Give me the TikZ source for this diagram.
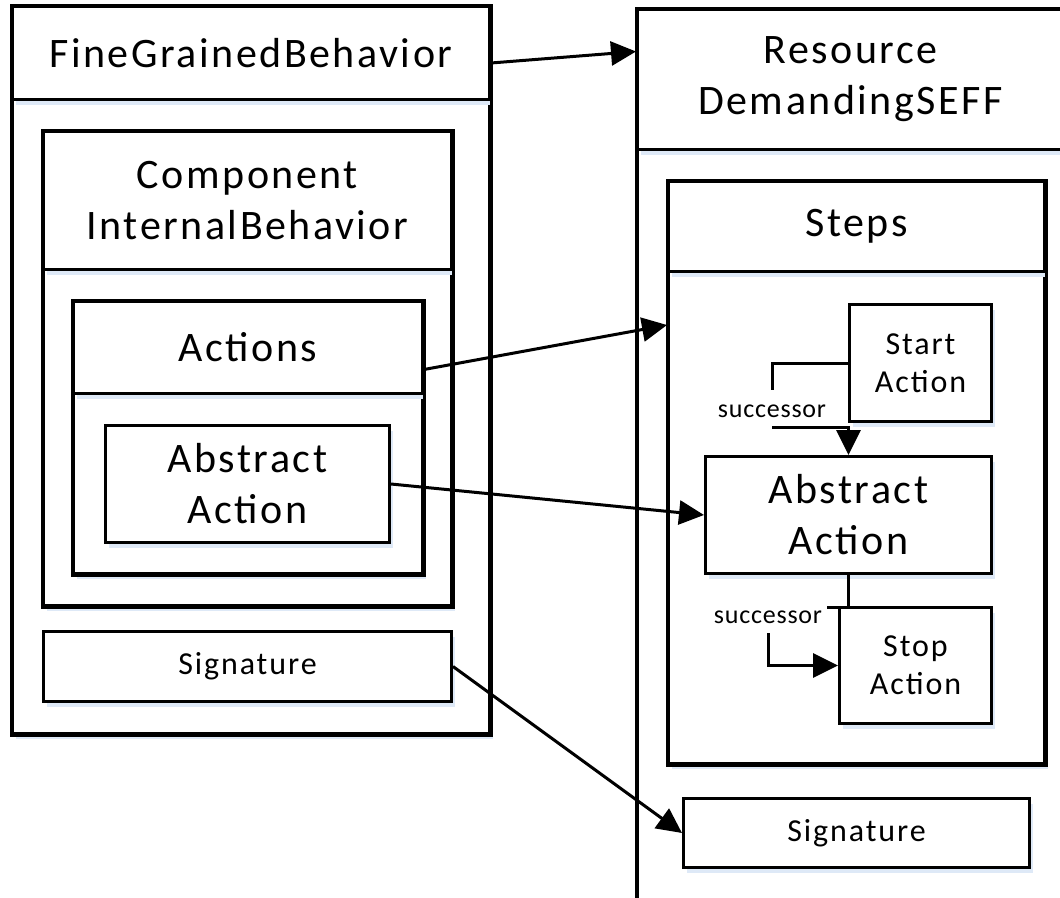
\documentclass[tikz,border=0pt]{standalone}
\usepackage{fontspec}
\setmainfont{Carlito}[LetterSpace=6]
\newfontfamily\labelfont{Carlito}[LetterSpace=3]
\usetikzlibrary{arrows.meta,shadows}
\definecolor{glow}{RGB}{222,233,247}
\begin{document}
\begin{tikzpicture}[x=1pt,y=-1pt,
  box/.style={draw=black, line width=3pt, fill=white, rectangle,
    anchor=north west, inner sep=0pt, align=center,
    drop shadow={shadow xshift=3pt, shadow yshift=-5pt, fill=glow, opacity=1}},
  big/.style={font=\fontsize{42}{51}\selectfont},
  mid/.style={font=\fontsize{32}{38}\selectfont},
  small/.style={font=\labelfont\fontsize{26}{30}\selectfont, inner sep=0pt},
  link/.style={draw=black, line width=3pt, -{Triangle[length=25pt,width=24pt]}},
  conn/.style={draw=black, line width=3pt},
  rim/.style={draw=black, line width=3pt}]
\useasboundingbox (0,0) rectangle (1060,897);
\clip (0,0) rectangle (1060,897);

% left side: FineGrainedBehavior and its contents
\node[box, minimum width=477pt, minimum height=727pt] (fgb) at (11,5) {};
\node[box, big, minimum width=477pt, minimum height=93pt] (fgbH) at (11,5) {FineGrainedBehavior};
\draw[rim] (fgb.north west) rectangle (fgb.south east);
\node[box, minimum width=408pt, minimum height=474pt] (cib) at (42,130) {};
\node[box, big, minimum width=408pt, minimum height=138pt] (cibH) at (42,130) {Component\\InternalBehavior};
\draw[rim] (cib.north west) rectangle (cib.south east);
\node[box, minimum width=349pt, minimum height=272pt] (act) at (72,300) {};
\node[box, big, minimum width=349pt, minimum height=92pt] (actH) at (72,300) {Actions};
\draw[rim] (act.north west) rectangle (act.south east);
\node[box, big, minimum width=284pt, minimum height=117pt] (absL) at (104,424) {Abstract\\Action};
\node[box, mid, minimum width=408pt, minimum height=70pt] (sigL) at (42,630) {Signature};

% right side: ResourceDemandingSEFF and its contents
\node[box, minimum width=426pt, minimum height=930pt] (rsd) at (636,8) {};
\node[box, big, minimum width=426pt, minimum height=140pt] (rsdH) at (636,8) {Resource\\DemandingSEFF};
\draw[rim] (rsd.north west) rectangle (rsd.south east);
\node[box, minimum width=376pt, minimum height=582pt] (steps) at (667,180) {};
\node[box, big, minimum width=376pt, minimum height=90pt] (stepsH) at (667,180) {Steps};
\draw[rim] (steps.north west) rectangle (steps.south east);
\node[box, mid, minimum width=142pt, minimum height=117pt] (start) at (848,303) {Start\\Action};
\node[box, big, minimum width=286pt, minimum height=117pt] (absR) at (704,455) {Abstract\\Action};
\node[box, mid, minimum width=152pt, minimum height=116pt] (stop) at (838,606) {Stop\\Action};
\node[box, mid, minimum width=346pt, minimum height=69pt] (sigR) at (682,797) {Signature};

% successor links between the steps
\node[small] (succ1) at (772,411) {successor};
\node[small] (succ2) at (768,617) {successor};
\coordinate (k1) at (772,427);
\coordinate (k2) at (768,633);
\draw[conn] (start.west) -- ++(-76,0) -- ++(0,27);
\draw[link] (k1) -| (absR.north);
\draw[conn] (absR.south) -- ++(0,32) -- ++(-22,0);
\draw[link] (k2) |- (stop.west);

% mapping arrows from left to right
\draw[link] ([yshift=-10pt]fgbH.east) -- ([yshift=28pt]rsdH.west);
\draw[link] ([yshift=-22pt]actH.east) -- ([yshift=-145pt]steps.north west);
\draw[link] (absL.east) -- (absR.west);
\draw[link] (sigL.east) -- (sigR.west);
\end{tikzpicture}
\end{document}
